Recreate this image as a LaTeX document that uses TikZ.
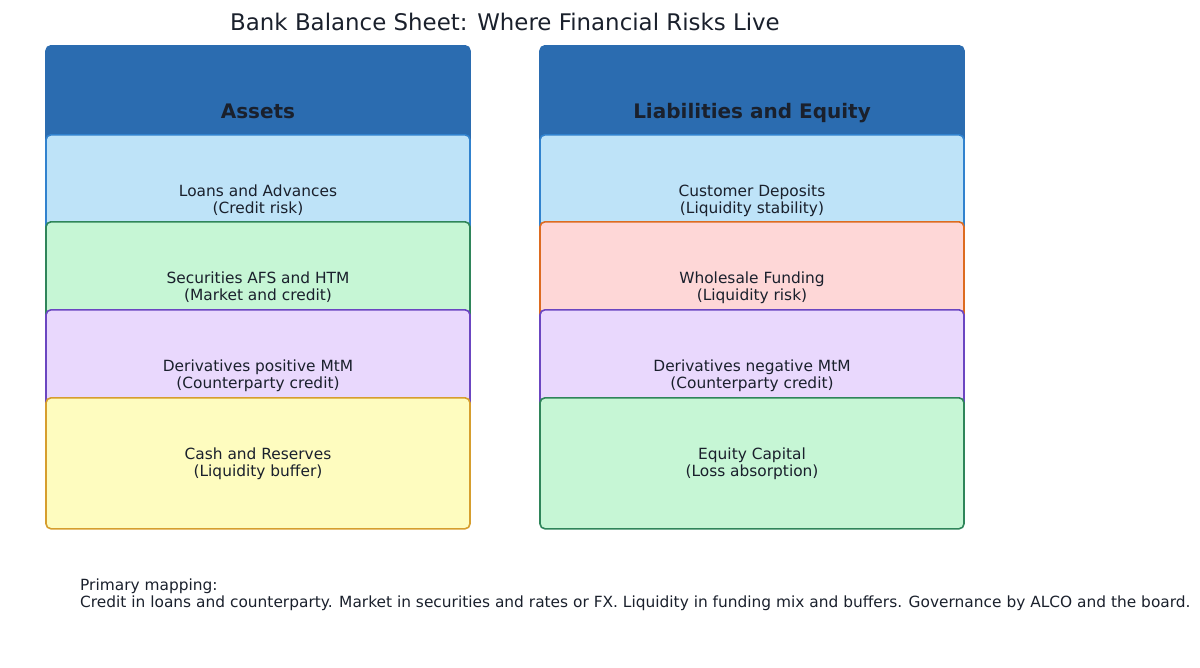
\documentclass[tikz,border=0pt]{standalone}
\usepackage{fontspec}
\setmainfont{DejaVu Sans}
\definecolor{hdr}{HTML}{2B6CB0}
\definecolor{txt}{HTML}{1A202C}
\definecolor{bluef}{HTML}{BEE3F8}\definecolor{bluel}{HTML}{3182CE}
\definecolor{greenf}{HTML}{C6F6D5}\definecolor{greenl}{HTML}{2F855A}
\definecolor{purplef}{HTML}{E9D8FD}\definecolor{purplel}{HTML}{6B46C1}
\definecolor{yellowf}{HTML}{FEFCBF}\definecolor{yellowl}{HTML}{D69E2E}
\definecolor{redf}{HTML}{FED7D7}\definecolor{redl}{HTML}{DD6B20}
\tikzset{
  cell/.style={rectangle, rounded corners=5pt, line width=1.6pt, minimum width=424pt, minimum height=131pt, inner sep=0pt, anchor=north, text=txt, align=center, font=\fontsize{15.4pt}{17pt}\selectfont},
  head/.style={cell, fill=hdr, draw=hdr},
  htext/.style={anchor=base, inner sep=0pt, text=txt, font=\fontsize{20pt}{22pt}\selectfont\bfseries},
  plain/.style={text=txt, inner sep=0pt, font=\fontsize{15.4pt}{17pt}\selectfont}
}
\begin{document}
\begin{tikzpicture}[x=1pt,y=-1pt]
\useasboundingbox (0,0) rectangle (1200,667);
\node[plain, font=\fontsize{22.9pt}{26pt}\selectfont] (title) at (505,22) {Bank Balance Sheet: Where Financial Risks Live};
% left column
\node[head] (assets) at (258,45) {};
\node[htext] (assetsT) at (258,118) {Assets};
\node[cell, fill=bluef, draw=bluel] (loans) at (258,134) {Loans and Advances\\(Credit risk)};
\node[cell, fill=greenf, draw=greenl] (sec) at (258,221) {Securities AFS and HTM\\(Market and credit)};
\node[cell, fill=purplef, draw=purplel] (dpos) at (258,309) {Derivatives positive MtM\\(Counterparty credit)};
\node[cell, fill=yellowf, draw=yellowl] (cash) at (258,397) {Cash and Reserves\\(Liquidity buffer)};
% right column
\node[head] (liab) at (752,45) {};
\node[htext] (liabT) at (752,118) {Liabilities and Equity};
\node[cell, fill=bluef, draw=bluel] (dep) at (752,134) {Customer Deposits\\(Liquidity stability)};
\node[cell, fill=redf, draw=redl] (whole) at (752,221) {Wholesale Funding\\(Liquidity risk)};
\node[cell, fill=purplef, draw=purplel] (dneg) at (752,309) {Derivatives negative MtM\\(Counterparty credit)};
\node[cell, fill=greenf, draw=greenl] (eq) at (752,397) {Equity Capital\\(Loss absorption)};
% footer
\node[plain, anchor=north west, align=left] (foot) at (80,579) {Primary mapping:\\Credit in loans and counterparty. Market in securities and rates or FX. Liquidity in funding mix and buffers. Governance by ALCO and the board.};
\end{tikzpicture}
\end{document}
